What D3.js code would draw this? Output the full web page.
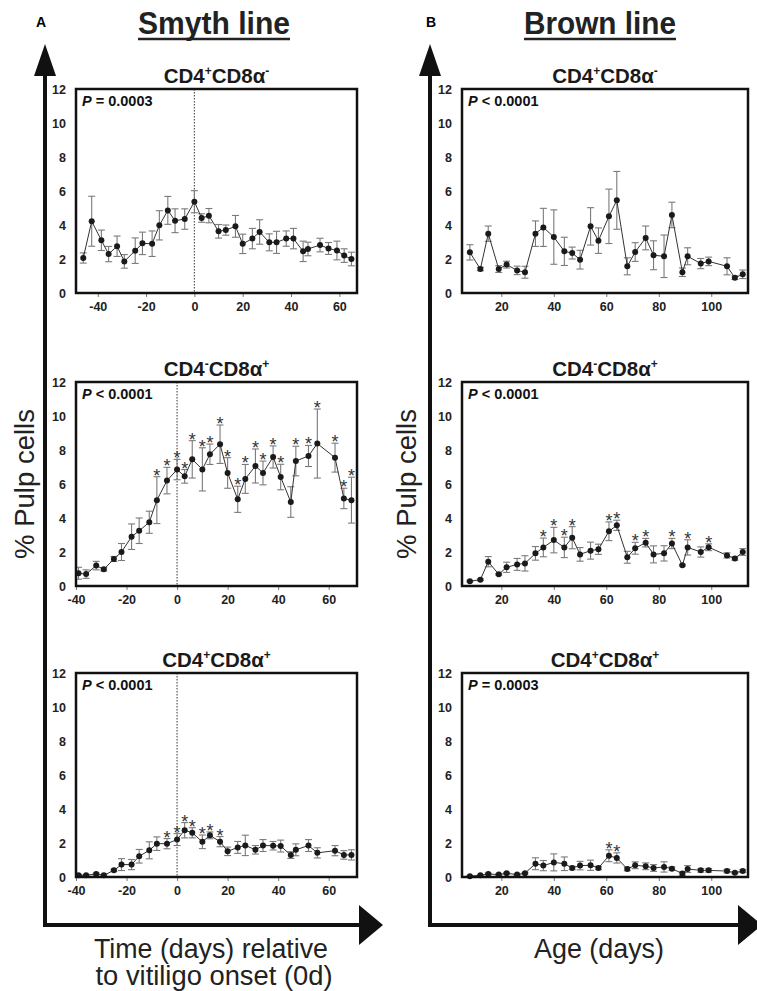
<!DOCTYPE html>
<html lang="en">
<head>
  <meta charset="UTF-8">
  <title>Pulp cells</title>
  <style>
    body { margin: 0; background: #fff; }
    text { font-family: "Liberation Sans", Arial, sans-serif; }
  </style>
</head>
<body>
<svg width=757 height=991 id="viz"></svg>

<script src="https://cdn.jsdelivr.net/npm/d3@7"></script>
<script>
/* global d3 */

// ---- data ----
// Smyth line, days relative to vitiligo onset
let smythDaysTop = [-46, -42.5, -38.5, -35.5, -32, -29, -24.5, -21.5, -17.5, -14.5, -11, -8, -4, 0, 3, 6, 10, 13, 17, 20, 24, 27, 31, 34, 38, 41, 45, 47, 52, 55.5, 59, 62, 65];
let smythDays = [-39, -36, -32, -29, -25, -22, -18, -15, -11, -8, -4, 0, 3, 6, 10, 13, 17, 20, 24, 27, 31, 34, 38, 41, 45, 47, 52, 55.5, 62.5, 66, 69];

let smythCD4 = [2.06, 4.22, 3.1, 2.29, 2.75, 1.86, 2.49, 2.92, 2.9, 3.98, 4.86, 4.25, 4.35, 5.37, 4.41, 4.55, 3.63, 3.7, 3.92, 2.89, 3.2, 3.59, 2.98, 2.98, 3.2, 3.2, 2.45, 2.59, 2.82, 2.62, 2.5, 2.2, 2.0];
let smythCD4Err = [0.3, 1.47, 0.6, 0.45, 0.6, 0.4, 0.75, 0.66, 0.75, 0.86, 0.82, 0.7, 0.6, 0.65, 0.25, 0.42, 0.4, 0.3, 0.64, 0.57, 0.6, 0.72, 0.5, 0.65, 0.45, 0.6, 0.6, 0.4, 0.4, 0.35, 0.55, 0.4, 0.4];

let smythCD8 = [0.75, 0.7, 1.2, 0.98, 1.59, 2.0, 2.9, 3.25, 3.75, 5.05, 6.2, 6.85, 6.45, 7.45, 6.86, 7.75, 8.34, 6.65, 5.1, 6.3, 7.06, 6.65, 7.59, 6.41, 4.94, 7.35, 7.65, 8.38, 7.55, 5.15, 5.05];
let smythCD8Err = [0.35, 0.25, 0.25, 0.1, 0.15, 0.5, 0.75, 0.75, 0.65, 1.38, 0.78, 0.6, 0.4, 1.1, 1.27, 0.6, 1.13, 0.9, 0.77, 0.85, 1.0, 0.7, 0.65, 0.75, 0.9, 0.87, 0.62, 2.03, 0.85, 0.6, 1.35];
let smythCD8Star = [9, 10, 11, 12, 13, 14, 15, 16, 17, 18, 19, 20, 21, 22, 23, 25, 26, 27, 28, 29, 30];

let smythDP = [0.1, 0.1, 0.18, 0.1, 0.39, 0.73, 0.73, 1.22, 1.57, 1.96, 1.96, 2.2, 2.75, 2.6, 2.07, 2.45, 2.08, 1.51, 1.74, 1.86, 1.6, 1.85, 1.84, 1.82, 1.29, 1.6, 1.85, 1.42, 1.55, 1.3, 1.3];
let smythDPErr = [0.05, 0.05, 0.05, 0.05, 0.07, 0.35, 0.3, 0.4, 0.5, 0.4, 0.3, 0.35, 0.45, 0.3, 0.4, 0.2, 0.3, 0.25, 0.35, 0.6, 0.25, 0.35, 0.25, 0.35, 0.2, 0.35, 0.35, 0.3, 0.3, 0.25, 0.3];
let smythDPStar = [10, 11, 12, 13, 14, 15, 16];

// Brown line, age in days
let brownDays = [8, 12, 15, 19, 22, 26, 29, 33, 36, 40, 44, 47, 50, 54, 57, 61, 64, 68, 71, 75, 78, 82, 85, 89, 91, 96, 99, 106, 109, 112];

let brownCD4 = [2.39, 1.41, 3.49, 1.41, 1.67, 1.33, 1.22, 3.49, 3.86, 3.29, 2.45, 2.35, 1.96, 3.92, 3.08, 4.51, 5.45, 1.57, 2.41, 3.24, 2.22, 2.16, 4.59, 1.22, 2.16, 1.73, 1.86, 1.57, 0.9, 1.1];
let brownCD4Err = [0.45, 0.1, 0.45, 0.2, 0.2, 0.25, 0.35, 0.75, 1.12, 1.6, 0.83, 0.35, 0.55, 1.1, 0.75, 1.6, 1.7, 0.5, 0.55, 0.7, 0.85, 1.25, 0.75, 0.25, 0.5, 0.3, 0.25, 0.5, 0.1, 0.25];

let brownCD8 = [0.28, 0.37, 1.43, 0.69, 1.1, 1.27, 1.33, 1.92, 2.27, 2.7, 2.27, 2.84, 1.86, 2.08, 2.16, 3.22, 3.57, 1.69, 2.22, 2.55, 1.86, 1.92, 2.5, 1.22, 2.27, 2.0, 2.28, 1.8, 1.62, 2.0];
let brownCD8Err = [0.05, 0.05, 0.3, 0.05, 0.3, 0.35, 0.45, 0.4, 0.55, 0.75, 0.6, 0.65, 0.4, 0.5, 0.3, 0.55, 0.3, 0.35, 0.35, 0.25, 0.5, 0.45, 0.3, 0.05, 0.45, 0.3, 0.2, 0.15, 0.1, 0.2];
let brownCD8Star = [8, 9, 10, 11, 15, 16, 18, 19, 22, 24, 26];

let brownDP = [0.05, 0.1, 0.18, 0.14, 0.22, 0.14, 0.22, 0.78, 0.67, 0.86, 0.78, 0.53, 0.67, 0.69, 0.53, 1.25, 1.12, 0.47, 0.69, 0.63, 0.53, 0.59, 0.49, 0.2, 0.47, 0.39, 0.39, 0.35, 0.25, 0.35];
let brownDPErr = [0.03, 0.03, 0.05, 0.05, 0.05, 0.05, 0.05, 0.35, 0.3, 0.5, 0.4, 0.1, 0.25, 0.3, 0.1, 0.35, 0.3, 0.1, 0.2, 0.2, 0.2, 0.3, 0.1, 0.1, 0.2, 0.1, 0.1, 0.1, 0.05, 0.08];
let brownDPStar = [15, 16];

let yTicks = [0, 2, 4, 6, 8, 10, 12];
let smythTicks = [-40, -20, 0, 20, 40, 60];
let brownTicks = [20, 40, 60, 80, 100];

// ---- layout ----
let svg = d3.select("#viz");
let rowTop = [89, 382, 673], plotH = 204;

function title(g, cx, y, s1, s2) {
  let t = g.append("text").attr("x", cx).attr("y", y)
    .attr("text-anchor", "middle").attr("font-size", 20.5).attr("font-weight", "bold").attr("fill", "#1a1a1a");
  t.append("tspan").text("CD4");
  t.append("tspan").attr("font-size", 12).attr("dy", -8).text(s1);
  t.append("tspan").attr("dy", 8).text("CD8\u03b1");
  t.append("tspan").attr("font-size", 12).attr("dy", -8).text(s2);
}

function panel(p) {
  let x = d3.scaleLinear().domain(p.xDomain).range([p.x0, p.x1]);
  let y = d3.scaleLinear().domain([0, 12]).range([p.top + plotH, p.top]);
  let g = svg.append("g");

  title(g, (p.x0 + p.x1) / 2, p.top - 6, p.sup[0], p.sup[1]);

  // y axis labels
  g.append("g")
    .attr("transform", "translate(" + p.x0 + ",0)")
    .call(d3.axisLeft(y).tickValues(yTicks).tickSize(0).tickPadding(10))
    .call(a => a.select(".domain").remove())
    .selectAll("text").attr("font-size", 12.5).attr("font-weight", "bold").attr("fill", "#222")
    .style("font-family", "Liberation Sans, Arial, sans-serif");

  // x axis
  g.append("g")
    .attr("transform", "translate(0," + (p.top + plotH) + ")")
    .call(d3.axisBottom(x).tickValues(p.ticks).tickSize(4).tickPadding(5).tickFormat(d => String(d)))
    .call(a => a.select(".domain").remove())
    .call(a => a.selectAll("line").attr("stroke", "#777"))
    .selectAll("text").attr("font-size", 12.5).attr("font-weight", "bold").attr("fill", "#222")
    .style("font-family", "Liberation Sans, Arial, sans-serif");

  if (p.zeroLine) {
    g.append("line")
      .attr("x1", x(0)).attr("x2", x(0))
      .attr("y1", p.top).attr("y2", p.top + plotH)
      .attr("stroke", "#555").attr("stroke-width", 1.2)
      .attr("stroke-dasharray", "1.5,1.5");
  }

  let data = p.days.map((d, i) => ({day: d, v: p.vals[i], e: p.errs[i], star: p.stars.includes(i)}));

  // error bars
  let eb = g.selectAll(".eb").data(data).enter().append("g").attr("class", "eb")
    .attr("stroke", "#7a7a7a").attr("stroke-width", 1.1);
  eb.append("line")
    .attr("x1", d => x(d.day)).attr("x2", d => x(d.day))
    .attr("y1", d => y(d.v - d.e)).attr("y2", d => y(d.v + d.e));
  eb.append("line")
    .attr("x1", d => x(d.day) - 3.5).attr("x2", d => x(d.day) + 3.5)
    .attr("y1", d => y(d.v + d.e)).attr("y2", d => y(d.v + d.e));
  eb.append("line")
    .attr("x1", d => x(d.day) - 3.5).attr("x2", d => x(d.day) + 3.5)
    .attr("y1", d => y(d.v - d.e)).attr("y2", d => y(d.v - d.e));

  g.append("path").datum(data)
    .attr("fill", "none").attr("stroke", "#333").attr("stroke-width", 1)
    .attr("d", d3.line().x(d => x(d.day)).y(d => y(d.v)));

  g.selectAll(".pt").data(data).enter().append("circle").attr("class", "pt")
    .attr("cx", d => x(d.day)).attr("cy", d => y(d.v)).attr("r", 3)
    .attr("fill", "#1a1a1a");

  g.selectAll(".star").data(data.filter(d => d.star)).enter().append("text")
    .attr("class", "star")
    .attr("x", d => x(d.day)).attr("y", d => y(d.v + d.e) + 5)
    .attr("text-anchor", "middle").attr("font-size", 18).attr("fill", "#333")
    .text("*");

  // frame
  g.append("rect")
    .attr("x", p.x0).attr("y", p.top).attr("width", p.x1 - p.x0).attr("height", plotH)
    .attr("fill", "none").attr("stroke", "#111").attr("stroke-width", 2.5);

  let pt = g.append("text").attr("x", p.x0 + 6).attr("y", p.top + 17)
    .attr("font-size", 14.5).attr("font-weight", "bold").attr("fill", "#111");
  pt.append("tspan").attr("font-style", "italic").text("P");
  pt.append("tspan").text(p.pText);
}

let left = {x0: 76, x1: 357};
let right = {x0: 462, x1: 748};

panel(Object.assign({}, left, {top: rowTop[0], xDomain: [-49, 67.3], ticks: smythTicks, zeroLine: true,
  days: smythDaysTop, vals: smythCD4, errs: smythCD4Err, stars: [], sup: ["+", "-"], pText: " = 0.0003"}));
panel(Object.assign({}, left, {top: rowTop[1], xDomain: [-40, 71.2], ticks: smythTicks, zeroLine: true,
  days: smythDays, vals: smythCD8, errs: smythCD8Err, stars: smythCD8Star, sup: ["-", "+"], pText: " < 0.0001"}));
panel(Object.assign({}, left, {top: rowTop[2], xDomain: [-40, 71.2], ticks: smythTicks, zeroLine: true,
  days: smythDays, vals: smythDP, errs: smythDPErr, stars: smythDPStar, sup: ["+", "+"], pText: " < 0.0001"}));

panel(Object.assign({}, right, {top: rowTop[0], xDomain: [5, 114], ticks: brownTicks,
  days: brownDays, vals: brownCD4, errs: brownCD4Err, stars: [], sup: ["+", "-"], pText: " < 0.0001"}));
panel(Object.assign({}, right, {top: rowTop[1], xDomain: [5, 114], ticks: brownTicks,
  days: brownDays, vals: brownCD8, errs: brownCD8Err, stars: brownCD8Star, sup: ["-", "+"], pText: " < 0.0001"}));
panel(Object.assign({}, right, {top: rowTop[2], xDomain: [5, 114], ticks: brownTicks,
  days: brownDays, vals: brownDP, errs: brownDPErr, stars: brownDPStar, sup: ["+", "+"], pText: " = 0.0003"}));

// ---- big arrows, headers, axis titles ----
function arrows(ax, tipX) {
  let a = svg.append("g").attr("fill", "#111").attr("stroke", "#111");
  a.append("path").attr("fill", "none").attr("stroke-width", 4)
    .attr("d", "M" + ax + ",70 V925 H" + (tipX - 20));
  a.append("path").attr("stroke", "none")
    .attr("d", "M" + ax + ",44 L" + (ax - 11) + ",76 L" + (ax + 11) + ",76 Z");
  a.append("path").attr("stroke", "none")
    .attr("d", "M" + tipX + ",925 L" + (tipX - 24) + ",905 L" + (tipX - 24) + ",945 Z");
}
arrows(45, 383);
arrows(430, 762);

function header(letter, lx, name, cx) {
  svg.append("text").attr("x", lx).attr("y", 27).attr("text-anchor", "middle")
    .attr("font-size", 14).attr("font-weight", "bold").text(letter);
  svg.append("text").attr("x", cx).attr("y", 34).attr("text-anchor", "middle")
    .attr("font-size", 31).attr("font-weight", "bold").attr("fill", "#222")
    .attr("textLength", 152).attr("lengthAdjust", "spacingAndGlyphs").text(name);
  svg.append("line").attr("x1", cx - 76).attr("x2", cx + 76).attr("y1", 39).attr("y2", 39)
    .attr("stroke", "#222").attr("stroke-width", 2.5);
}
header("A", 41, "Smyth line", 214);
header("B", 431, "Brown line", 600);

function yTitle(cx) {
  svg.append("text").attr("transform", "translate(" + cx + ",484) rotate(-90)")
    .attr("text-anchor", "middle").attr("font-size", 27).attr("fill", "#222")
    .attr("textLength", 150).attr("lengthAdjust", "spacingAndGlyphs").text("% Pulp cells");
}
yTitle(34);
yTitle(416);

svg.append("text").attr("x", 211).attr("y", 958).attr("text-anchor", "middle")
  .attr("font-size", 27).attr("fill", "#222").attr("textLength", 234).attr("lengthAdjust", "spacingAndGlyphs")
  .text("Time (days) relative");
svg.append("text").attr("x", 214).attr("y", 985).attr("text-anchor", "middle")
  .attr("font-size", 27).attr("fill", "#222").attr("textLength", 237).attr("lengthAdjust", "spacingAndGlyphs")
  .text("to vitiligo onset (0d)");
svg.append("text").attr("x", 599).attr("y", 958).attr("text-anchor", "middle")
  .attr("font-size", 27).attr("fill", "#222").attr("textLength", 130).attr("lengthAdjust", "spacingAndGlyphs")
  .text("Age (days)");
</script>
</body>
</html>
